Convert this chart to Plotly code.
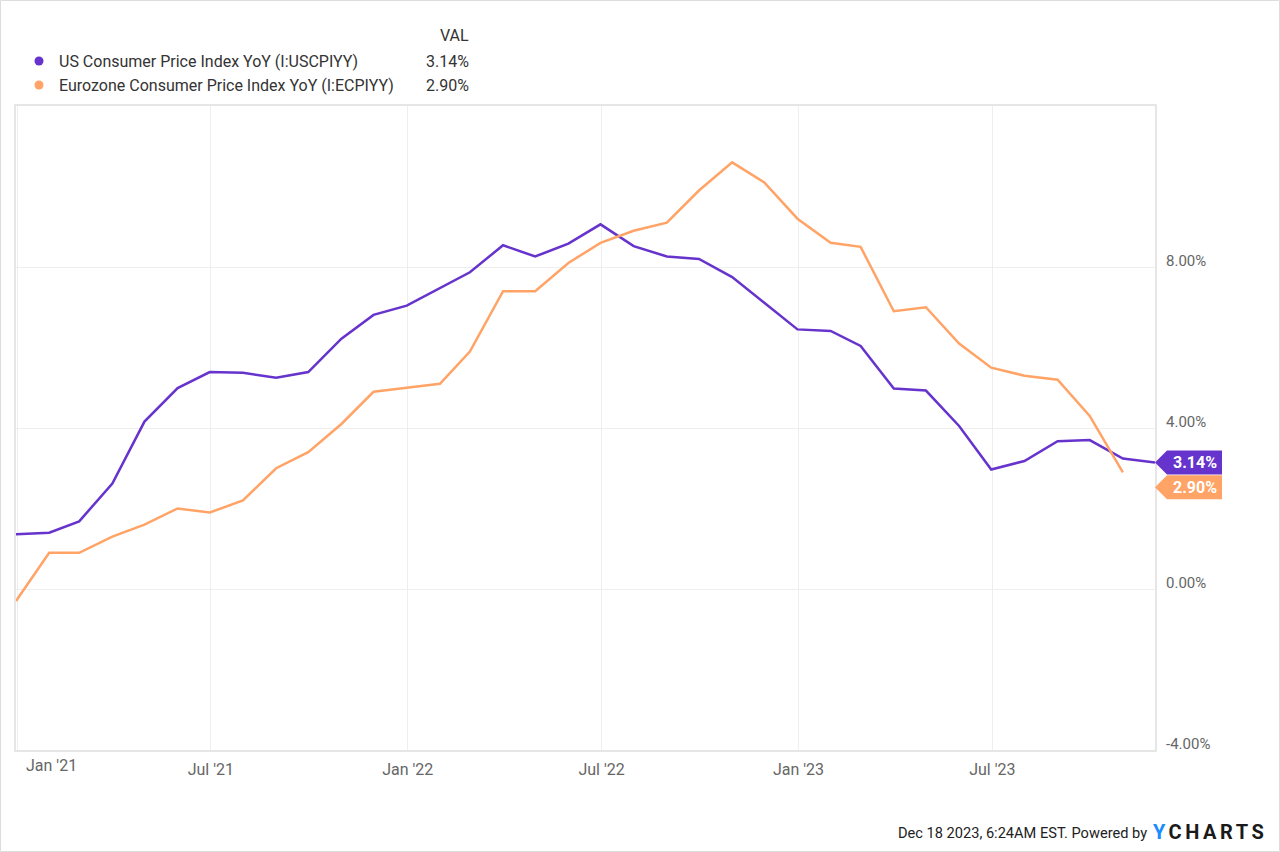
import pandas as pd
import plotly.graph_objects as go

# ---- data (month-end YoY %) ----
dates = pd.date_range("2020-12-31", periods=36, freq="ME")
us_cpi = [1.36, 1.40, 1.68, 2.62, 4.16, 4.99, 5.39, 5.37, 5.25, 5.39, 6.22, 6.81,
          7.04, 7.48, 7.87, 8.54, 8.26, 8.58, 9.06, 8.52, 8.26, 8.20, 7.75, 7.11,
          6.45, 6.41, 6.04, 4.98, 4.93, 4.05, 2.97, 3.18, 3.67, 3.70, 3.24, 3.14]
ez_dates = dates[:35]
ez_cpi = [-0.3, 0.9, 0.9, 1.3, 1.6, 2.0, 1.9, 2.2, 3.0, 3.4, 4.1, 4.9,
          5.0, 5.1, 5.9, 7.4, 7.4, 8.1, 8.6, 8.9, 9.1, 9.9, 10.6, 10.1,
          9.2, 8.6, 8.5, 6.9, 7.0, 6.1, 5.5, 5.3, 5.2, 4.3, 2.9]

series_names = ["US Consumer Price Index YoY (I:USCPIYY)",
                "Eurozone Consumer Price Index YoY (I:ECPIYY)"]
last_vals = ["3.14%", "2.90%"]

x_tickvals = ["2021-01-01", "2021-07-01", "2022-01-01", "2022-07-01", "2023-01-01", "2023-07-01"]
x_ticktext = ["", "Jul '21", "Jan '22", "Jul '22", "Jan '23", "Jul '23"]
y_tickvals = [-4, 0, 4, 8]
y_ticktext = ["-4.00%", "0.00%", "4.00%", "8.00%"]

PURPLE = "#6633cc"
ORANGE = "#ffa366"
FONT = "Roboto"

fig = go.Figure()
fig.add_trace(go.Scatter(x=dates, y=us_cpi, mode="lines", name=series_names[0],
                         line=dict(color=PURPLE, width=2.5), showlegend=False))
fig.add_trace(go.Scatter(x=ez_dates, y=ez_cpi, mode="lines", name=series_names[1],
                         line=dict(color=ORANGE, width=2.5), showlegend=False))

fig.update_layout(
    width=1280, height=852,
    margin=dict(l=16, r=125, t=106, b=102),
    paper_bgcolor="white", plot_bgcolor="white",
    font=dict(family=FONT, size=14, color="#666666"),
    xaxis=dict(range=["2020-12-31", "2023-11-30"], tickvals=x_tickvals, ticktext=x_ticktext,
               showgrid=True, gridcolor="#eeeeee", gridwidth=1,
               showline=True, mirror=True, linecolor="#e6e6e6", linewidth=2,
               ticks="", ticklabelstandoff=4, zeroline=False,
               tickfont=dict(family=FONT, size=16, color="#666666")),
    yaxis=dict(range=[-4, 12], tickvals=y_tickvals, ticktext=y_ticktext, side="right",
               showgrid=True, gridcolor="#eeeeee", gridwidth=1,
               showline=True, mirror=True, linecolor="#e6e6e6", linewidth=2,
               ticks="", ticklabelstandoff=6, ticklabelshift=-6, zeroline=False,
               tickfont=dict(family=FONT, size=15, color="#666666")),
)

ann = []
shapes = []
# Jan '21 label (shifted inside)
ann.append(dict(x="2021-01-01", xref="x", y=0, yref="paper", text="Jan '21", showarrow=False,
                xanchor="left", yanchor="top", xshift=7, yshift=-4,
                font=dict(family=FONT, size=16, color="#666666")))

# legend block
def px_x(px):
    return (px - 16) / 1139.0

def px_y(py):
    return (750 - py) / 644.0

ann.append(dict(x=px_x(471), xref="paper", y=px_y(36), yref="paper", text="VAL", showarrow=False,
                xanchor="right", yanchor="middle", font=dict(family=FONT, size=16, color="#333333")))
for i, (name, val, col, ly) in enumerate(zip(series_names, last_vals, [PURPLE, ORANGE], [61, 85])):
    shapes.append(dict(type="circle", xref="paper", yref="paper", xsizemode="pixel", ysizemode="pixel",
                       xanchor=px_x(39), yanchor=px_y(ly), x0=-4.5, x1=4.5, y0=-4.5, y1=4.5,
                       fillcolor=col, line=dict(width=0)))
    ann.append(dict(x=px_x(57), xref="paper", y=px_y(ly), yref="paper", text=name, showarrow=False,
                    xanchor="left", yanchor="middle", font=dict(family=FONT, size=16, color="#333333")))
    ann.append(dict(x=px_x(471), xref="paper", y=px_y(ly), yref="paper", text=val, showarrow=False,
                    xanchor="right", yanchor="middle", font=dict(family=FONT, size=16, color="#333333")))

# end-value flags
flag_vals = [us_cpi[-1], ez_cpi[-1]]
offsets = [0, -15]
for val, txt, col, off in zip(flag_vals, last_vals, [PURPLE, ORANGE], offsets):
    shapes.append(dict(type="path", xref="paper", yref="y", xsizemode="pixel", ysizemode="pixel",
                       xanchor=1, yanchor=val,
                       path=f"M0,{off} L12,{off+12} L67,{off+12} L67,{off-12} L12,{off-12} Z",
                       fillcolor=col, line=dict(width=0), layer="above"))
    ann.append(dict(x=1, xref="paper", y=val, yref="y", text=f"<b>{txt}</b>", showarrow=False,
                    xanchor="center", yanchor="middle", xshift=40, yshift=off,
                    font=dict(family=FONT, size=16, color="white")))

# footer
ann.append(dict(x=px_x(1149), xref="paper", y=px_y(833), yref="paper",
                text="Dec 18 2023, 6:24AM EST. Powered by", showarrow=False,
                xanchor="right", yanchor="middle", font=dict(family=FONT, size=14.6, color="#222222")))
ann.append(dict(x=px_x(1151), xref="paper", y=px_y(832), yref="paper",
                text="<span style='color:#1a8cff;letter-spacing:3.5px'>Y</span>"
                     "<span style='letter-spacing:3.5px'>CHARTS</span>", showarrow=False,
                xanchor="left", yanchor="middle",
                font=dict(family="Roboto", size=20, color="#1a1a1a", weight="bold")))

# outer frame
shapes.append(dict(type="rect", xref="paper", yref="paper", x0=px_x(0.5), x1=px_x(1279.5),
                   y0=px_y(851.5), y1=px_y(0.5), line=dict(color="#dddddd", width=1),
                   fillcolor="rgba(0,0,0,0)", layer="below"))

fig.update_layout(annotations=ann, shapes=shapes)
fig.write_html("out.html", config={"displayModeBar": False},
               post_script="document.body.style.margin='0px';")
